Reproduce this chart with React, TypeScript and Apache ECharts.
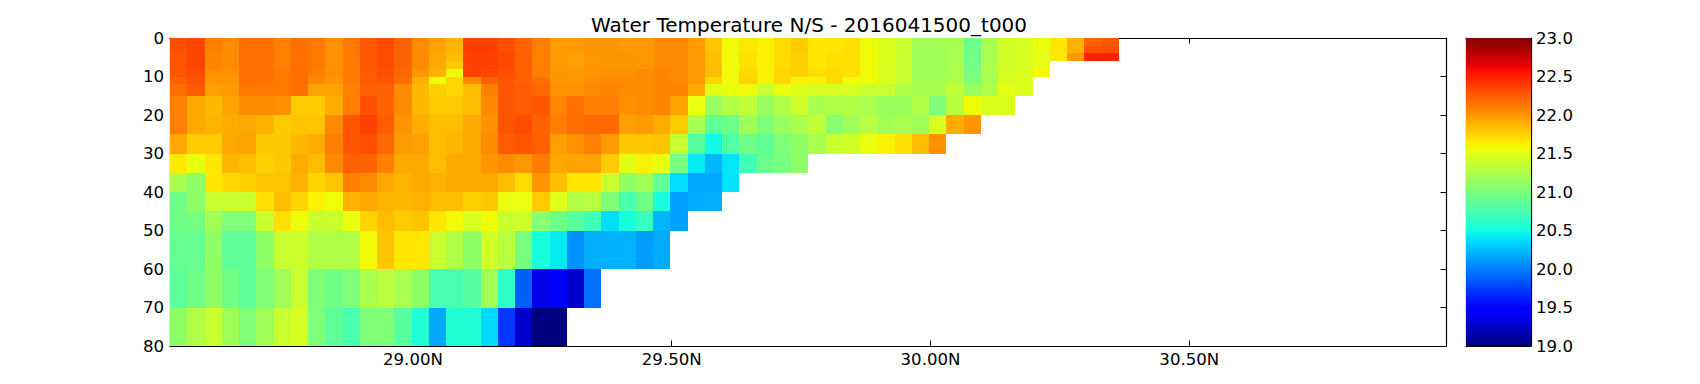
import React, { useEffect, useRef } from "react";
import * as echarts from "echarts";

const titleText = "Water Temperature N/S - 2016041500_t000";
const lonMin = 28.5306;
const lonMax = 30.996;
const lonStep = 1 / 30;
const lonTicks = [29, 29.5, 30, 30.5];
const depthEdges = [0, 2, 4, 6, 8, 10, 12, 15, 20, 25, 30, 35, 40, 45, 50, 60, 70, 80];

const row0 = [22.3,22.35,22.1,22.05,22.17,22.17,22.1,22.17,22.13,22.03,22.13,22.27,22.32,22.22,22.05,21.96,21.88,22.37,22.37,22.3,22.22,22.1,21.98,21.98,22.01,22.01,21.98,22.0,22.05,22.05,21.98,21.81,21.57,21.66,21.62,21.71,21.78,21.66,21.67,21.69,21.57,21.47,21.37,21.18,21.18,21.22,20.94,21.22,21.41,21.45,21.53,21.66,21.89,22.22,22.27];
const row1 = [22.3,22.35,22.1,22.05,22.17,22.17,22.1,22.17,22.13,22.03,22.13,22.27,22.32,22.22,22.05,21.95,21.88,22.39,22.39,22.3,22.22,22.1,21.98,21.98,22.01,22.01,21.98,22.0,22.05,22.05,21.98,21.81,21.57,21.66,21.62,21.71,21.78,21.66,21.67,21.69,21.57,21.47,21.37,21.18,21.18,21.22,20.94,21.22,21.41,21.45,21.53,21.66,21.89,22.3,22.3];
const row2 = [22.28,22.35,22.08,22.05,22.17,22.17,22.1,22.17,22.13,22.03,22.13,22.27,22.32,22.22,22.05,21.93,21.83,22.37,22.37,22.33,22.23,22.1,21.98,21.96,22.0,22.01,22.01,22.0,22.06,22.06,21.98,21.83,21.57,21.69,21.62,21.71,21.76,21.66,21.69,21.69,21.57,21.47,21.37,21.18,21.18,21.22,20.96,21.22,21.41,21.45,21.49,21.66,21.98,22.5,22.5];
const row3 = [22.28,22.35,22.08,22.05,22.17,22.17,22.1,22.17,22.13,22.03,22.13,22.27,22.32,22.22,22.05,21.93,21.79,22.37,22.37,22.33,22.23,22.1,21.98,21.96,22.0,22.01,22.01,22.0,22.06,22.06,21.98,21.83,21.57,21.69,21.62,21.71,21.76,21.66,21.69,21.69,21.57,21.47,21.37,21.18,21.18,21.22,20.96,21.22,21.41,21.45,21.53];
const row4 = [22.28,22.32,22.03,22.03,22.17,22.17,22.13,22.17,22.1,22.03,22.13,22.26,22.3,22.2,22.0,21.89,21.57,22.37,22.33,22.3,22.23,22.1,22.0,21.98,22.01,22.03,22.03,22.05,22.08,22.06,21.98,21.84,21.57,21.72,21.62,21.73,21.76,21.69,21.71,21.69,21.57,21.47,21.37,21.18,21.18,21.22,20.98,21.22,21.45,21.47,21.6];
const row5 = [22.23,22.3,22.01,22.01,22.17,22.15,22.13,22.17,22.06,22.01,22.13,22.26,22.28,22.18,21.89,21.57,21.73,22.05,22.23,22.28,22.23,22.17,22.01,22.0,22.03,22.05,22.05,22.05,22.08,22.06,21.98,21.73,21.57,21.74,21.62,21.73,21.62,21.62,21.71,21.57,21.57,21.45,21.37,21.22,21.22,21.26,21.02,21.22,21.45,21.47];
const row6 = [22.17,22.25,21.96,21.98,22.13,22.13,22.13,22.17,21.95,21.95,22.1,22.23,22.23,22.05,21.86,21.76,21.73,21.83,22.1,22.28,22.25,22.2,22.03,22.03,22.06,22.08,22.05,22.05,22.08,22.08,21.93,21.49,21.53,21.57,21.37,21.53,21.49,21.45,21.45,21.45,21.37,21.37,21.26,21.22,21.22,21.33,21.14,21.26,21.51,21.47];
const row7 = [22.1,21.93,21.86,21.95,22.05,22.05,22.03,21.78,21.78,21.91,22.11,22.3,22.22,22.05,21.86,21.78,21.78,21.84,22.06,22.28,22.25,22.28,22.08,22.17,22.1,22.11,22.03,22.05,22.08,21.95,21.53,21.14,21.26,21.33,21.14,21.26,21.41,21.22,21.26,21.26,21.22,21.14,21.14,21.26,21.02,21.29,21.57,21.47,21.47];
const row8 = [22.1,21.93,21.88,21.91,21.93,21.89,21.78,21.81,21.81,22.06,22.28,22.37,22.25,22.01,21.91,21.84,21.84,21.93,22.03,22.28,22.32,22.22,22.11,22.18,22.2,22.2,21.96,21.98,21.91,21.78,21.22,20.87,20.91,21.18,21.02,21.14,21.22,21.33,21.06,21.18,21.29,21.18,21.22,21.18,21.45,21.91,22.01];
const row9 = [21.93,21.78,21.78,21.93,21.95,21.79,21.79,21.86,21.91,22.1,22.28,22.3,22.2,21.98,21.96,21.83,21.86,21.93,22.05,22.25,22.28,22.23,21.96,22.03,22.1,21.98,21.79,21.79,21.81,21.37,20.83,20.48,20.79,20.94,20.87,21.02,21.1,21.22,21.37,21.41,21.53,21.62,21.69,21.83,22.03];
const row10 = [21.65,21.53,21.66,21.88,21.83,21.76,21.79,21.91,21.84,22.06,22.23,22.22,22.1,21.93,21.93,21.84,21.93,21.93,22.01,22.05,22.0,22.11,21.93,21.95,21.95,21.78,21.49,21.62,21.53,20.98,20.42,20.22,20.4,20.71,20.91,20.98,21.1];
const row11 = [21.22,21.1,21.66,21.73,21.76,21.81,21.81,21.89,21.73,21.81,22.1,22.06,21.93,21.88,21.93,21.89,21.93,21.93,21.93,21.83,21.71,22.01,21.83,21.66,21.66,21.37,21.1,21.18,20.87,20.37,20.16,20.16,20.39];
const row12 = [20.94,21.1,21.37,21.37,21.37,21.7,21.83,21.74,21.62,21.56,21.89,21.93,21.88,21.86,21.89,21.84,21.84,21.76,21.79,21.53,21.53,21.78,21.49,21.26,21.29,21.02,20.75,20.94,20.52,20.13,20.17,20.19];
const row13 = [20.94,20.97,21.18,21.02,21.02,21.37,21.69,21.56,21.37,21.39,21.53,21.74,21.84,21.78,21.81,21.66,21.58,21.45,21.57,21.37,21.41,21.06,20.94,20.83,20.71,20.37,20.52,20.67,20.22,20.13];
const row14 = [20.9,20.9,21.1,20.86,20.86,21.1,21.37,21.39,21.26,21.26,21.26,21.58,21.8,21.66,21.66,21.37,21.26,21.1,21.41,21.29,20.98,20.52,20.42,20.08,20.19,20.2,20.2,20.11,20.17];
const row15 = [20.86,20.94,21.1,20.94,20.86,21.02,21.18,21.37,21.02,20.94,21.02,21.22,21.3,21.22,21.1,20.75,20.75,20.83,21.18,20.63,19.88,19.37,19.44,19.27,19.94];
const row16 = [21.1,21.26,21.37,21.18,21.02,21.18,21.37,21.45,21.02,20.86,20.75,21.02,21.02,20.83,20.56,20.16,20.56,20.56,20.36,19.72,19.27,19.0,19.0];
const tempRows = [row0,row1,row2,row3,row4,row5,row6,row7,row8,row9,row10,row11,row12,row13,row14,row15,row16];

const jetStops: [number, string][] = [
  [0, "#000080"], [0.11, "#0000ff"], [0.125, "#0000ff"], [0.34, "#00dbff"], [0.35, "#00e6f6"],
  [0.375, "#14ffe2"], [0.5, "#7bff7b"], [0.64, "#eeff08"], [0.66, "#ffec00"],
  [0.89, "#ff1300"], [0.91, "#e80000"], [1, "#800000"],
];

function jetAt(t: number): string {
  for (let i = 1; i < jetStops.length; i++) {
    const [a, ca] = jetStops[i - 1];
    const [b, cb] = jetStops[i];
    if (t <= b) {
      const f = (t - a) / (b - a);
      const p = [1, 3, 5].map((k) => {
        const x = parseInt(ca.slice(k, k + 2), 16);
        const y = parseInt(cb.slice(k, k + 2), 16);
        return Math.round(x + (y - x) * f);
      });
      return `rgb(${p[0]},${p[1]},${p[2]})`;
    }
  }
  return jetStops[jetStops.length - 1][1];
}

const cellData: number[][] = [];
tempRows.forEach((row, r) => {
  row.forEach((v, c) => {
    cellData.push([lonMin + c * lonStep, lonMin + (c + 1) * lonStep, depthEdges[r], depthEdges[r + 1], v]);
  });
});

const rectItem = (fill: any) => (params: any, api: any) => {
  const p0 = api.coord([api.value(0), api.value(2)]);
  const p1 = api.coord([api.value(1), api.value(3)]);
  const x0 = Math.round(p0[0]);
  const x1 = Math.round(p1[0]);
  const y0 = Math.round(p0[1]);
  const y1 = Math.round(p1[1]);
  return {
    type: "rect",
    shape: { x: x0, y: y0, width: x1 - x0, height: y1 - y0 },
    style: { fill: fill === null ? api.visual("color") : fill, stroke: "none" },
  };
};

const font = { fontFamily: "DejaVu Sans", fontSize: 16.6, color: "#000" };
const yFont = { ...font, padding: [0, 0, 2, 0] };
const tick = (show = true) => ({ show, inside: true, length: 5.5, lineStyle: { color: "#000", width: 1 } });
const line = { show: true, onZero: false, lineStyle: { color: "#000", width: 1.2 } };

export default function App() {
  const ref = useRef<HTMLDivElement>(null);
  useEffect(() => {
    document.body.style.margin = "0";
    const chart = echarts.init(ref.current!, undefined, { renderer: "svg" });
    const lonAxis = {
      type: "value", gridIndex: 0, min: lonMin, max: lonMax, splitLine: { show: false },
      axisLine: line,
      axisTick: { ...tick(), customValues: lonTicks },
    };
    const depthAxis = {
      type: "value", gridIndex: 0, min: 0, max: 80, interval: 10, inverse: true,
      splitLine: { show: false }, axisLine: line, axisTick: tick(),
    };
    chart.setOption({
      animation: false,
      backgroundColor: "#fff",
      title: {
        text: titleText, left: 804, top: 10, textAlign: "center",
        textStyle: { fontFamily: "DejaVu Sans", fontSize: 20, fontWeight: "normal", color: "#000" },
      },
      grid: [
        { left: 170, top: 38, width: 1276, height: 308 },
        { left: 1466, top: 38, width: 65, height: 308 },
      ],
      xAxis: [
        {
          ...lonAxis, position: "bottom",
          axisLabel: {
            ...font, margin: 5, customValues: lonTicks,
            formatter: (v: number) => v.toFixed(2) + "N",
          },
        },
        { ...lonAxis, position: "top", axisLabel: { show: false } },
        { type: "value", gridIndex: 1, min: 0, max: 1, position: "bottom", axisLine: line, axisTick: { show: false }, axisLabel: { show: false }, splitLine: { show: false } },
        { type: "value", gridIndex: 1, min: 0, max: 1, position: "top", axisLine: line, axisTick: { show: false }, axisLabel: { show: false }, splitLine: { show: false } },
      ],
      yAxis: [
        { ...depthAxis, position: "left", axisLabel: { ...yFont, margin: 6 } },
        { ...depthAxis, position: "right", axisLabel: { show: false } },
        {
          type: "value", gridIndex: 1, min: 19, max: 23, interval: 0.5, position: "right",
          splitLine: { show: false }, axisLine: line, axisTick: tick(),
          axisLabel: { ...yFont, margin: 5, formatter: (v: number) => v.toFixed(1) },
        },
        { type: "value", gridIndex: 1, min: 19, max: 23, position: "left", splitLine: { show: false }, axisLine: line, axisTick: { show: false }, axisLabel: { show: false } },
      ],
      visualMap: {
        show: false, seriesIndex: 0, dimension: 4, min: 19, max: 23,
        inRange: { color: Array.from({ length: 129 }, (_, i) => jetAt(i / 128)) },
      },
      series: [
        {
          type: "custom", xAxisIndex: 0, yAxisIndex: 0, coordinateSystem: "cartesian2d",
          encode: { x: [0, 1], y: [2, 3] }, data: cellData, clip: true,
          renderItem: rectItem(null),
        },
        {
          type: "custom", xAxisIndex: 2, yAxisIndex: 2, coordinateSystem: "cartesian2d",
          encode: { x: [0, 1], y: [2, 3] }, data: [[0, 1, 23, 19]],
          renderItem: rectItem(new echarts.graphic.LinearGradient(0, 1, 0, 0,
            jetStops.map(([offset, color]) => ({ offset, color })))),
        },
      ],
    });
    return () => chart.dispose();
  }, []);
  return <div ref={ref} style={{ position: "absolute", left: 0, top: 0, width: 1700, height: 384 }} />;
}
